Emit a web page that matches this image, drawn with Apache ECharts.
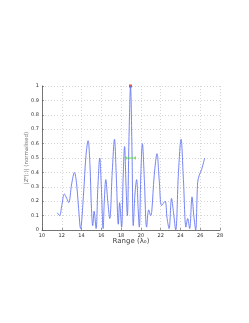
<!DOCTYPE html>
<html><head><meta charset="utf-8">
<script src="https://cdn.jsdelivr.net/npm/echarts@6/dist/echarts.min.js"></script>
<style>html,body{margin:0;padding:0;background:#fff}#c{width:249px;height:323px}</style>
</head><body><div id="c"></div>
<script>
const rangeX = [11.55,11.78,12.0,12.26,12.5,12.7,13.0,13.28,13.5,13.7,13.9,14.2,14.45,14.66,14.85,15.0,15.13,15.27,15.47,15.65,15.84,16.0,16.18,16.3,16.45,16.65,16.85,17.1,17.33,17.5,17.72,17.85,18.05,18.2,18.35,18.5,18.63,18.8,18.95,19.1,19.23,19.4,19.57,19.72,19.84,20.0,20.15,20.35,20.58,20.79,20.99,21.1,21.35,21.63,21.85,22.1,22.44,22.65,22.85,23.1,23.3,23.52,23.8,24.06,24.3,24.56,24.73,24.93,25.17,25.35,25.54,25.74,25.9,26.14,26.45];
const magnitudeY = [0.12,0.10,0.17,0.25,0.22,0.19,0.32,0.40,0.32,0.15,0.01,0.25,0.52,0.62,0.45,0.15,0.03,0.13,0.01,0.30,0.50,0.30,0.01,0.20,0.35,0.20,0.08,0.40,0.63,0.40,0.04,0.19,0.02,0.35,0.58,0.30,0.10,0.65,1.0,0.55,0.03,0.25,0.35,0.15,0.02,0.40,0.60,0.35,0.02,0.14,0.10,0.13,0.38,0.53,0.35,0.17,0.20,0.08,0.01,0.22,0.12,0.0,0.40,0.63,0.35,0.02,0.08,0.01,0.23,0.10,0.0,0.33,0.38,0.42,0.50];
const peakPoint = [18.95, 1.0];
const halfWidthX = [18.49, 19.43];
const halfWidthY = [0.5, 0.5];
const xTicks = [10,12,14,16,18,20,22,24,26,28];
const yTicks = [0,0.1,0.2,0.3,0.4,0.5,0.6,0.7,0.8,0.9,1];

const chart = echarts.init(document.getElementById('c'), null, {renderer:'canvas'});
const lineData = rangeX.map((x,i)=>[x, magnitudeY[i]]);
const axisLabel = {fontSize:5, color:'#333', fontFamily:'DejaVu Sans', margin:3};
chart.setOption({
  animation:false,
  grid:{left:42, right:29, top:86, bottom:93, containLabel:false},
  xAxis:{type:'value', min:xTicks[0], max:xTicks[xTicks.length-1], interval:2,
    name:'Range (λ₀)', nameLocation:'middle', nameGap:8, nameMoveOverlap:false,
    nameTextStyle:{fontSize:7, color:'#444', fontFamily:'DejaVu Sans'},
    axisLine:{show:true, lineStyle:{color:'#555', width:0.8}},
    axisTick:{show:true, inside:true, length:2, lineStyle:{color:'#555', width:0.6}},
    axisLabel:axisLabel,
    splitLine:{show:true, lineStyle:{color:'#bbb', type:[1,2], width:0.6}}},
  yAxis:{type:'value', min:0, max:1, interval:0.1,
    name:'|Zᴾ(:)| (normalised)', nameLocation:'middle', nameGap:12, nameMoveOverlap:false,
    nameTextStyle:{fontSize:5.5, color:'#777', fontFamily:'DejaVu Sans'},
    axisLine:{show:true, lineStyle:{color:'#555', width:0.8}},
    axisTick:{show:true, inside:true, length:2, lineStyle:{color:'#555', width:0.6}},
    axisLabel:Object.assign({}, axisLabel, {formatter:v=>String(Math.round(v*10)/10)}),
    splitLine:{show:true, lineStyle:{color:'#bbb', type:[1,2], width:0.6}}},
  series:[
    {type:'line', data:lineData, smooth:0.35, showSymbol:false,
      lineStyle:{color:'#6677f2', width:0.9}},
    {type:'line', data:halfWidthX.map((x,i)=>[x, halfWidthY[i]]), showSymbol:true, symbol:'rect', symbolSize:[1,3],
      itemStyle:{color:'#55dd33'}, lineStyle:{color:'#55dd33', width:0.9}},
    {type:'scatter', data:[peakPoint], symbol:'rect', symbolSize:3, itemStyle:{color:'#ee2222'}}
  ]
});
</script></body></html>
